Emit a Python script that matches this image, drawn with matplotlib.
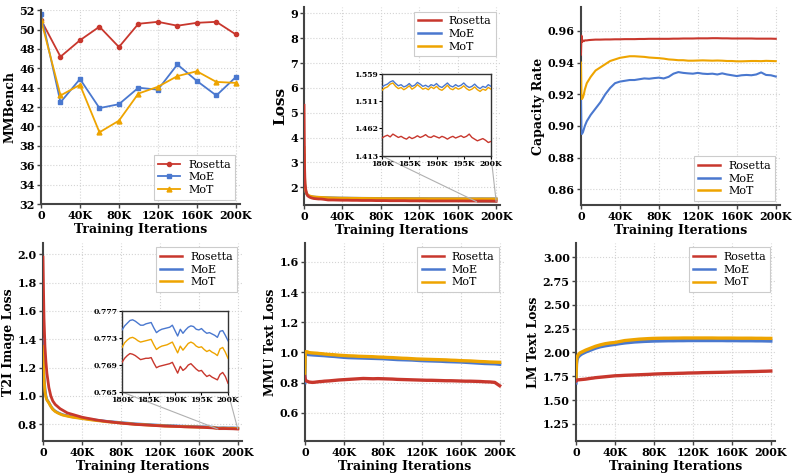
import matplotlib
matplotlib.use("Agg")
import matplotlib.pyplot as plt
from mpl_toolkits.axes_grid1.inset_locator import mark_inset

plt.rcParams['font.family'] = ['DejaVu Serif']
plt.rcParams['font.weight'] = 'bold'

names = ['Rosetta', 'MoE', 'MoT']
colors = {'Rosetta': '#c8372d', 'MoE': '#4a78cf', 'MoT': '#eea400'}

# MMBench evaluated every 20K iterations
mmb_x = [0, 20, 40, 60, 80, 100, 120, 140, 160, 180, 200]
mmb = {
    'Rosetta': [51.0, 47.2, 48.9, 50.3, 48.2, 50.6, 50.8, 50.4, 50.7, 50.8, 49.5],
    'MoE': [51.6, 42.5, 44.9, 41.9, 42.3, 44.0, 43.8, 46.4, 44.7, 43.2, 45.1],
    'MoT': [51.0, 43.2, 44.3, 39.4, 40.6, 43.4, 44.1, 45.2, 45.7, 44.6, 44.5],
}

# training curves (iterations in K)
steps = [0, 0.5, 1, 2, 3, 4, 6, 8, 10, 12.5, 15, 17.5, 20, 25, 30, 35, 40, 45, 50, 55,
         60, 65, 70, 75, 80, 85, 90, 95, 100, 105, 110, 115, 120, 125, 130, 135, 140,
         145, 150, 155, 160, 165, 170, 175, 180, 185, 190, 195, 200]

loss = {
    'Rosetta': [5.3, 2.9, 2.15, 1.85, 1.72, 1.65, 1.6, 1.57, 1.55, 1.54, 1.53, 1.53, 1.52,
                1.49, 1.49, 1.485, 1.48, 1.48, 1.475, 1.475, 1.47, 1.47, 1.47, 1.465, 1.465,
                1.465, 1.46, 1.46, 1.46, 1.46, 1.455, 1.455, 1.455, 1.455, 1.45, 1.45, 1.45,
                1.45, 1.45, 1.45, 1.45, 1.45, 1.448, 1.448, 1.447, 1.448, 1.447, 1.446, 1.44],
    'MoE': [3.3, 2.4, 2.0, 1.8, 1.72, 1.67, 1.64, 1.62, 1.61, 1.6, 1.595, 1.59, 1.585,
            1.58, 1.575, 1.57, 1.567, 1.565, 1.562, 1.56, 1.558, 1.556, 1.555, 1.553, 1.552,
            1.551, 1.55, 1.549, 1.548, 1.547, 1.546, 1.545, 1.545, 1.544, 1.543, 1.542, 1.542,
            1.541, 1.541, 1.540, 1.540, 1.539, 1.539, 1.538, 1.537, 1.538, 1.537, 1.537, 1.536],
    'MoT': [3.6, 2.5, 2.05, 1.82, 1.73, 1.68, 1.65, 1.63, 1.615, 1.605, 1.6, 1.595, 1.59,
            1.578, 1.572, 1.567, 1.563, 1.561, 1.558, 1.556, 1.554, 1.552, 1.551, 1.549, 1.548,
            1.547, 1.546, 1.545, 1.544, 1.543, 1.542, 1.541, 1.541, 1.540, 1.539, 1.538, 1.538,
            1.537, 1.537, 1.536, 1.536, 1.535, 1.535, 1.534, 1.533, 1.534, 1.533, 1.533, 1.532],
}

cap = {
    'Rosetta': [0.945, 0.957, 0.953, 0.954, 0.9535, 0.954, 0.954, 0.9542, 0.9543, 0.9544,
                0.9545, 0.9545, 0.9545, 0.9546, 0.9546, 0.9547, 0.9547, 0.9548, 0.9548, 0.9548,
                0.9549, 0.9549, 0.955, 0.955, 0.955, 0.955, 0.955, 0.9551, 0.9551, 0.9552,
                0.9552, 0.9552, 0.9553, 0.9553, 0.9553, 0.9554, 0.9554, 0.9553, 0.9553, 0.9552,
                0.9552, 0.9552, 0.9552, 0.9552, 0.9551, 0.9551, 0.9551, 0.9551, 0.955],
    'MoE': [0.92, 0.895, 0.895, 0.896, 0.898, 0.900, 0.903, 0.905, 0.907, 0.909, 0.911,
            0.913, 0.915, 0.920, 0.924, 0.927, 0.928, 0.9285, 0.929, 0.929, 0.9295, 0.93,
            0.9298, 0.9302, 0.9305, 0.930, 0.931, 0.933, 0.934, 0.9335, 0.9332, 0.933, 0.9335,
            0.933, 0.9328, 0.933, 0.9325, 0.9332, 0.9325, 0.932, 0.9315, 0.932, 0.9322, 0.932,
            0.9325, 0.9338, 0.9322, 0.932, 0.9312],
    'MoT': [0.940, 0.918, 0.917, 0.918, 0.920, 0.923, 0.927, 0.929, 0.931, 0.933, 0.935,
            0.936, 0.937, 0.939, 0.941, 0.942, 0.943, 0.9435, 0.944, 0.944, 0.9438, 0.9436,
            0.9432, 0.943, 0.9428, 0.9425, 0.942, 0.9418, 0.9415, 0.9415, 0.9412, 0.9412,
            0.9413, 0.9414, 0.9413, 0.9412, 0.9413, 0.9412, 0.941, 0.941, 0.9408, 0.9408,
            0.9409, 0.941, 0.941, 0.9409, 0.9411, 0.941, 0.9409],
}

t2i = {
    'Rosetta': [1.98, 1.75, 1.55, 1.35, 1.24, 1.16, 1.06, 1.0, 0.965, 0.94, 0.925, 0.91,
                0.90, 0.88, 0.87, 0.86, 0.85, 0.843, 0.837, 0.83, 0.825, 0.82, 0.816, 0.812,
                0.808, 0.805, 0.802, 0.799, 0.797, 0.795, 0.793, 0.791, 0.789, 0.787, 0.786,
                0.785, 0.784, 0.782, 0.781, 0.78, 0.779, 0.778, 0.776, 0.774, 0.7694, 0.7700,
                0.7690, 0.7682, 0.7663],
    'MoE': [1.40, 1.25, 1.14, 1.05, 1.0, 0.975, 0.953, 0.928, 0.908, 0.893, 0.883, 0.875,
            0.868, 0.86, 0.853, 0.848, 0.843, 0.838, 0.833, 0.829, 0.825, 0.821, 0.818,
            0.815, 0.812, 0.809, 0.806, 0.803, 0.801, 0.799, 0.797, 0.795, 0.793, 0.791, 0.79,
            0.789, 0.787, 0.786, 0.785, 0.784, 0.783, 0.782, 0.781, 0.779, 0.7742, 0.7752,
            0.7741, 0.7744, 0.7726],
    'MoT': [1.35, 1.22, 1.12, 1.03, 0.99, 0.97, 0.95, 0.925, 0.905, 0.89, 0.88, 0.872,
            0.865, 0.857, 0.85, 0.845, 0.84, 0.835, 0.83, 0.826, 0.822, 0.818, 0.815, 0.812,
            0.809, 0.806, 0.803, 0.8, 0.798, 0.796, 0.794, 0.792, 0.79, 0.788, 0.787, 0.786,
            0.784, 0.783, 0.782, 0.781, 0.78, 0.779, 0.778, 0.776, 0.7716, 0.7727, 0.7716,
            0.7717, 0.7700],
}

mmu = {
    'Rosetta': [0.84, 0.82, 0.815, 0.81, 0.808, 0.805, 0.803, 0.802, 0.803, 0.805, 0.807,
                0.808, 0.81, 0.812, 0.815, 0.818, 0.82, 0.822, 0.824, 0.826, 0.828, 0.827,
                0.826, 0.827, 0.826, 0.825, 0.824, 0.822, 0.821, 0.82, 0.819, 0.818, 0.817,
                0.816, 0.816, 0.815, 0.814, 0.813, 0.813, 0.812, 0.811, 0.81, 0.81, 0.809,
                0.808, 0.806, 0.805, 0.802, 0.78],
    'MoE': [0.80, 0.99, 0.99, 0.988, 0.987, 0.986, 0.985, 0.984, 0.983, 0.982, 0.981, 0.98,
            0.979, 0.976, 0.974, 0.971, 0.968, 0.966, 0.965, 0.964, 0.963, 0.962, 0.961, 0.96,
            0.959, 0.957, 0.955, 0.953, 0.952, 0.951, 0.95, 0.948, 0.946, 0.945, 0.944, 0.943,
            0.942, 0.94, 0.939, 0.938, 0.937, 0.935, 0.933, 0.931, 0.929, 0.927, 0.926, 0.925,
            0.922],
    'MoT': [0.86, 1.0, 1.005, 1.005, 1.003, 1.0, 0.998, 0.997, 0.996, 0.995, 0.993, 0.992,
            0.99, 0.987, 0.985, 0.982, 0.98, 0.978, 0.977, 0.975, 0.974, 0.973, 0.972, 0.97,
            0.969, 0.967, 0.966, 0.964, 0.962, 0.961, 0.959, 0.957, 0.956, 0.955, 0.954, 0.953,
            0.952, 0.951, 0.949, 0.948, 0.946, 0.945, 0.944, 0.942, 0.94, 0.939, 0.937, 0.936,
            0.935],
}

lm = {
    'Rosetta': [1.70, 1.705, 1.71, 1.712, 1.713, 1.714, 1.716, 1.718, 1.72, 1.724, 1.728,
                1.731, 1.735, 1.74, 1.745, 1.75, 1.755, 1.757, 1.76, 1.762, 1.764, 1.766,
                1.768, 1.77, 1.773, 1.775, 1.777, 1.778, 1.779, 1.781, 1.782, 1.784, 1.785,
                1.786, 1.788, 1.789, 1.79, 1.791, 1.792, 1.793, 1.795, 1.796, 1.797, 1.798,
                1.799, 1.80, 1.802, 1.803, 1.805],
    'MoE': [1.68, 1.88, 1.92, 1.95, 1.96, 1.97, 1.985, 1.995, 2.005, 2.015, 2.025, 2.035,
            2.045, 2.06, 2.07, 2.078, 2.085, 2.093, 2.10, 2.105, 2.11, 2.113, 2.116, 2.118,
            2.12, 2.121, 2.122, 2.123, 2.123, 2.124, 2.124, 2.125, 2.125, 2.125, 2.125, 2.125,
            2.125, 2.125, 2.125, 2.124, 2.124, 2.124, 2.123, 2.123, 2.123, 2.122, 2.122,
            2.121, 2.12],
    'MoT': [1.72, 1.90, 1.95, 1.97, 1.985, 1.995, 2.005, 2.015, 2.025, 2.035, 2.045, 2.055,
            2.065, 2.08, 2.092, 2.1, 2.105, 2.115, 2.125, 2.13, 2.135, 2.14, 2.143, 2.146,
            2.148, 2.149, 2.15, 2.15, 2.151, 2.151, 2.152, 2.152, 2.152, 2.152, 2.152, 2.152,
            2.152, 2.151, 2.151, 2.151, 2.151, 2.15, 2.15, 2.15, 2.15, 2.149, 2.149, 2.148,
            2.148],
}

# zoomed windows, 180K-200K
zoom_x = [180, 180.5, 181, 181.5, 182, 182.5, 183, 183.5, 184, 184.5,
          185, 185.5, 186, 186.5, 187, 187.5, 188, 188.5, 189, 189.5,
          190, 190.5, 191, 191.5, 192, 192.5, 193, 193.5, 194, 194.5,
          195, 195.5, 196, 196.5, 197, 197.5, 198, 198.5, 199, 199.5, 200]
loss_zoom = {
    'Rosetta': [1.445, 1.448, 1.450, 1.447, 1.452, 1.449, 1.446, 1.448, 1.445, 1.443,
                1.447, 1.444, 1.446, 1.449, 1.446, 1.448, 1.451, 1.447, 1.446, 1.449,
                1.447, 1.445, 1.448, 1.446, 1.443, 1.446, 1.448, 1.445, 1.447, 1.449,
                1.446, 1.448, 1.452, 1.446, 1.443, 1.440, 1.442, 1.444, 1.441, 1.437, 1.439],
    'MoE': [1.536, 1.539, 1.541, 1.545, 1.547, 1.542, 1.538, 1.540, 1.536, 1.538,
            1.542, 1.537, 1.539, 1.544, 1.541, 1.537, 1.539, 1.536, 1.540, 1.538,
            1.542, 1.537, 1.535, 1.539, 1.543, 1.538, 1.536, 1.540, 1.537, 1.539,
            1.543, 1.538, 1.535, 1.537, 1.541, 1.536, 1.533, 1.537, 1.535, 1.540, 1.537],
    'MoT': [1.530, 1.534, 1.536, 1.541, 1.543, 1.537, 1.533, 1.535, 1.531, 1.534,
            1.538, 1.532, 1.535, 1.540, 1.536, 1.532, 1.534, 1.531, 1.536, 1.533,
            1.537, 1.532, 1.530, 1.534, 1.539, 1.533, 1.531, 1.535, 1.532, 1.534,
            1.538, 1.533, 1.530, 1.532, 1.536, 1.531, 1.528, 1.532, 1.530, 1.535, 1.532],
}
t2i_zoom = {
    'Rosetta': [0.7694, 0.7700, 0.7704, 0.7707, 0.7706, 0.7704, 0.7701, 0.7698, 0.7699, 0.7700,
                0.7700, 0.7701, 0.7693, 0.7686, 0.7688, 0.7689, 0.7690, 0.7691, 0.7692, 0.7694,
                0.7686, 0.7678, 0.7688, 0.7682, 0.7685, 0.7690, 0.7692, 0.7688, 0.7684, 0.7681,
                0.7682, 0.7677, 0.7673, 0.7675, 0.7672, 0.7670, 0.7668, 0.7676, 0.7679, 0.7673,
                0.7663],
    'MoE': [0.7742, 0.7748, 0.7752, 0.7756, 0.7757, 0.7755, 0.7752, 0.7749, 0.7749, 0.7751,
            0.7752, 0.7753, 0.7745, 0.7738, 0.7741, 0.7743, 0.7744, 0.7745, 0.7746, 0.7749,
            0.7741, 0.7733, 0.7743, 0.7737, 0.7742, 0.7746, 0.7748, 0.7747, 0.7743, 0.7742,
            0.7744, 0.7740, 0.7737, 0.7738, 0.7736, 0.7734, 0.7731, 0.7740, 0.7741, 0.7734,
            0.7726],
    'MoT': [0.7716, 0.7723, 0.7727, 0.7730, 0.7731, 0.7729, 0.7726, 0.7724, 0.7725, 0.7726,
            0.7727, 0.7728, 0.7720, 0.7713, 0.7716, 0.7718, 0.7719, 0.7720, 0.7722, 0.7724,
            0.7716, 0.7708, 0.7718, 0.7712, 0.7717, 0.7722, 0.7724, 0.7722, 0.7718, 0.7716,
            0.7717, 0.7713, 0.7710, 0.7712, 0.7709, 0.7707, 0.7704, 0.7714, 0.7716, 0.7709,
            0.7700],
}

xticks = [0, 40, 80, 120, 160, 200]
xticklabels = ['0', '40K', '80K', '120K', '160K', '200K']
leg_font = {'family': 'DejaVu Serif', 'weight': 'normal', 'size': 8}


def style(ax, ylabel, ylim, yticks, ylab_size=9):
    for s in ['top', 'right']:
        ax.spines[s].set_visible(False)
    for s in ['left', 'bottom']:
        ax.spines[s].set_color('#444444')
        ax.spines[s].set_linewidth(1.5)
    ax.grid(True, color='#d4d4d4', linestyle=':', linewidth=0.8)
    ax.set_axisbelow(True)
    ax.set_xlim(0, 204)
    ax.set_ylim(*ylim)
    ax.set_yticks(yticks)
    ax.set_xticks(xticks)
    ax.set_xticklabels(xticklabels)
    ax.tick_params(labelsize=8, length=3, width=1, color='#444444', pad=1.5)
    ax.set_xlabel('Training Iterations', fontsize=9, fontweight='bold', labelpad=1)
    ax.set_ylabel(ylabel, fontsize=ylab_size, fontweight='bold', labelpad=2)


def legend(ax, loc, handle_lw=1.8):
    leg = ax.legend(loc=loc, prop=leg_font, fancybox=False, edgecolor='#cccccc',
                    framealpha=1, handlelength=2.0, handletextpad=0.7, borderpad=0.4,
                    labelspacing=0.25, borderaxespad=0.4)
    leg.get_frame().set_linewidth(0.8)
    if handle_lw:
        for line in leg.get_lines():
            line.set_linewidth(handle_lw)


def curves(ax, data, lw=2.0):
    for n in names:
        ax.plot(steps, data[n], color=colors[n], lw=lw, label=n,
                zorder=4 if n == 'Rosetta' else 3)


def zoom_box(ax, rect, data, ylim, yticks):
    axins = fig.add_axes(rect)
    for n in names:
        axins.plot(zoom_x, data[n], color=colors[n], lw=1.0,
                   zorder=4 if n == 'Rosetta' else 3)
    axins.set_xlim(180, 200)
    axins.set_ylim(*ylim)
    axins.set_yticks(yticks)
    axins.set_xticks([180, 185, 190, 195, 200])
    axins.set_xticklabels(['180K', '185K', '190K', '195K', '200K'])
    axins.tick_params(labelsize=5.5, length=2, width=0.8, pad=1)
    for s in axins.spines.values():
        s.set_color('#333333')
        s.set_linewidth(1.0)
    axins.set_facecolor('white')
    mark_inset(ax, axins, loc1=3, loc2=4, fc='none', ec='#b0b0b0', lw=0.8)
    return axins


fig = plt.figure(figsize=(7.98, 4.75), dpi=100)

# MMBench
ax1 = fig.add_axes([0.0514, 0.5705, 0.249, 0.408])
markers = {'Rosetta': 'o', 'MoE': 's', 'MoT': '^'}
msize = {'Rosetta': 3, 'MoE': 3.5, 'MoT': 3.5}
for n in names:
    ax1.plot(mmb_x, mmb[n], color=colors[n], lw=1.3, marker=markers[n],
             markersize=msize[n], label=n)
style(ax1, 'MMBench', (32, 52), list(range(32, 53, 2)))
legend(ax1, 'lower right', handle_lw=None)

# Loss
ax2 = fig.add_axes([0.381, 0.568, 0.2456, 0.417])
curves(ax2, loss)
style(ax2, 'Loss', (1.28, 9.25), [2, 3, 4, 5, 6, 7, 8, 9], ylab_size=11)
legend(ax2, 'upper right')
zoom_box(ax2, [0.4787, 0.6716, 0.1366, 0.1726], loss_zoom, (1.413, 1.559),
         [1.413, 1.462, 1.511, 1.559])

# Capacity Rate
ax3 = fig.add_axes([0.728, 0.568, 0.249, 0.417])
curves(ax3, cap, lw=1.5)
style(ax3, 'Capacity Rate', (0.85, 0.975), [0.86, 0.88, 0.90, 0.92, 0.94, 0.96])
legend(ax3, 'lower right')

# T2I Image Loss
ax4 = fig.add_axes([0.0539, 0.0716, 0.249, 0.417])
curves(ax4, t2i)
style(ax4, 'T2I Image Loss', (0.682, 2.08), [0.8, 1.0, 1.2, 1.4, 1.6, 1.8, 2.0])
legend(ax4, 'upper right')
zoom_box(ax4, [0.1529, 0.1747, 0.1328, 0.1705], t2i_zoom, (0.765, 0.777),
         [0.765, 0.769, 0.773, 0.777])

# MMU Text Loss
ax5 = fig.add_axes([0.382, 0.0716, 0.249, 0.4168])
curves(ax5, mmu, lw=2.4)
style(ax5, 'MMU Text Loss', (0.414, 1.725), [0.6, 0.8, 1.0, 1.2, 1.4, 1.6])
legend(ax5, 'upper right')

# LM Text Loss
ax6 = fig.add_axes([0.7218, 0.0716, 0.249, 0.4168])
curves(ax6, lm, lw=2.4)
style(ax6, 'LM Text Loss', (1.07, 3.15), [1.25, 1.50, 1.75, 2.00, 2.25, 2.50, 2.75, 3.00])
ax6.set_yticklabels(['1.25', '1.50', '1.75', '2.00', '2.25', '2.50', '2.75', '3.00'])
legend(ax6, 'upper right')

fig.savefig('out.png', dpi=100)
